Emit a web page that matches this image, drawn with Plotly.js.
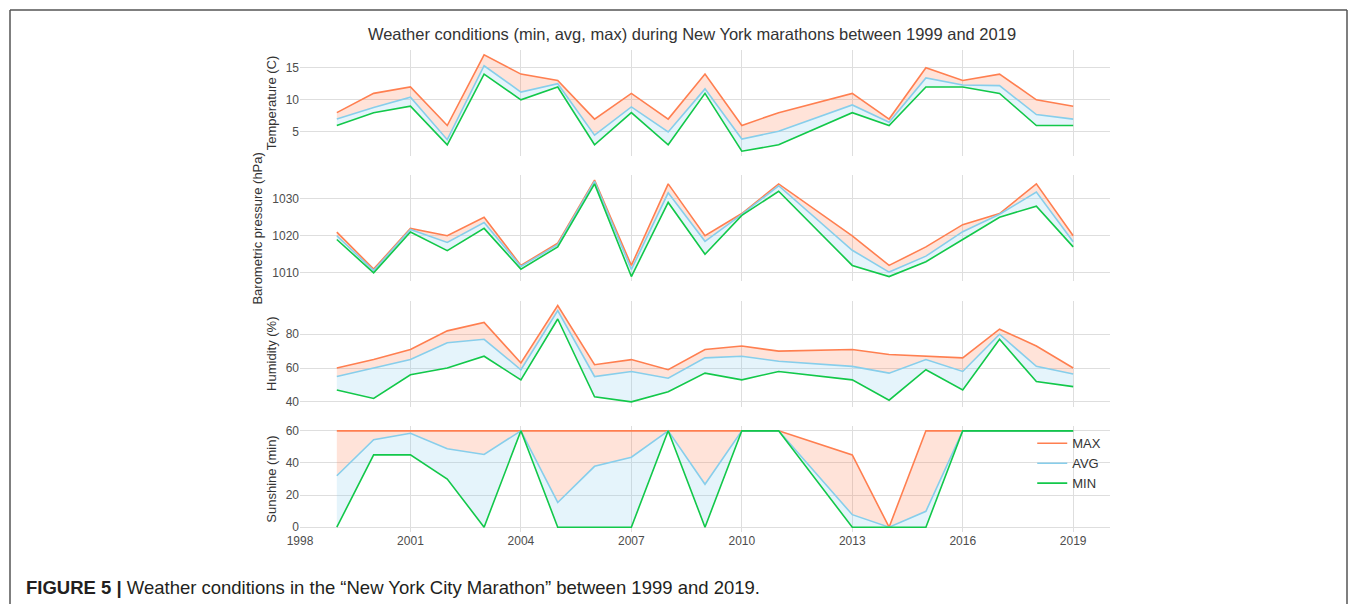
<!DOCTYPE html>
<html>
<head>
<meta charset="utf-8">
<script src="https://cdn.plot.ly/plotly-3.0.1.min.js"></script>
<style>
  html, body { margin: 0; padding: 0; background: #fff; }
  #chart { width: 1357px; height: 604px; }
</style>
</head>
<body>
<div id="chart"></div>
<script>
// Years (no race in 2012)
const years = [1999, 2000, 2001, 2002, 2003, 2004, 2005, 2006, 2007, 2008, 2009, 2010, 2011, 2013, 2014, 2015, 2016, 2017, 2018, 2019];

// Temperature (C)
const tempMax = [8, 11, 12, 6, 17, 14, 13, 7, 11, 7, 14, 6, 8, 11, 7, 15, 13, 14, 10, 9];
const tempAvg = [7, 8.8, 10.4, 3.8, 15.3, 11.2, 12.5, 4.5, 8.9, 5, 11.7, 3.9, 5.1, 9.2, 6.5, 13.4, 12.3, 12.2, 7.7, 7];
const tempMin = [6, 8, 9, 3, 14, 10, 12, 3, 8, 3, 11, 2, 3, 8, 6, 12, 12, 11, 6, 6];

// Barometric pressure (hPa)
const presMax = [1021, 1011, 1022, 1020, 1025, 1012, 1018, 1035, 1012, 1034, 1020, 1026, 1034, 1020, 1012, 1017, 1023, 1026, 1034, 1020];
const presAvg = [1020, 1010.6, 1021.7, 1018.2, 1023.6, 1011.7, 1017.6, 1034.7, 1010.9, 1031.6, 1018.5, 1025.8, 1033.5, 1016.1, 1010.2, 1014.5, 1021.1, 1025.8, 1031.8, 1018.4];
const presMin = [1019, 1010, 1021, 1016, 1022, 1011, 1017, 1034, 1009, 1029, 1015, 1025.5, 1032, 1012, 1009, 1013, 1019, 1025, 1028, 1017];

// Humidity (%)
const humMax = [60, 65, 71, 82, 87, 63, 97, 62, 65, 59, 71, 73, 70, 71, 68, 67, 66, 83, 73, 60];
const humAvg = [55, 60, 65, 75, 77, 59, 94, 55, 58, 54, 66, 67, 64, 61, 57, 65, 58, 80, 61, 56.5];
const humMin = [47, 42, 56, 60, 67, 53, 89, 43, 40, 46, 57, 53, 58, 53, 41, 59, 47, 77, 52, 49];

// Sunshine (min)
const sunMax = [60, 60, 60, 60, 60, 60, 60, 60, 60, 60, 60, 60, 60, 45, 0, 60, 60, 60, 60, 60];
const sunAvg = [32, 54.5, 58.5, 48.8, 45.3, 60, 15.4, 37.9, 43.6, 60, 26.7, 60, 60, 7.8, 0, 9.9, 60, 60, 60, 60];
const sunMin = [0, 45, 45, 30, 0, 60, 0, 0, 0, 60, 0, 60, 60, 0, 0, 0, 60, 60, 60, 60];

const xTicks = [1998, 2001, 2004, 2007, 2010, 2013, 2016, 2019];

const C_MAX = '#ff7f50', C_AVG = '#87ceeb', C_MIN = '#12c84a';
const F_MAX = 'rgba(255,127,80,0.22)', F_AVG = 'rgba(135,206,235,0.22)';
const FONT = 'Liberation Sans, Arial, sans-serif';

const panels = [
  {mx: tempMax, av: tempAvg, mn: tempMin, ax: ''},
  {mx: presMax, av: presAvg, mn: presMin, ax: '2'},
  {mx: humMax,  av: humAvg,  mn: humMin,  ax: '3'},
  {mx: sunMax,  av: sunAvg,  mn: sunMin,  ax: '4'}
];

const traces = [];
panels.forEach((p, i) => {
  const xa = 'x' + p.ax, ya = 'y' + p.ax;
  const leg = (i === 3);
  // fills
  traces.push({x: years, y: p.mn, xaxis: xa, yaxis: ya, mode: 'lines', line: {width: 0, color: 'rgba(0,0,0,0)'}, showlegend: false, hoverinfo: 'skip'});
  traces.push({x: years, y: p.av, xaxis: xa, yaxis: ya, mode: 'lines', line: {width: 0, color: 'rgba(0,0,0,0)'}, fill: 'tonexty', fillcolor: F_AVG, showlegend: false, hoverinfo: 'skip'});
  traces.push({x: years, y: p.mx, xaxis: xa, yaxis: ya, mode: 'lines', line: {width: 0, color: 'rgba(0,0,0,0)'}, fill: 'tonexty', fillcolor: F_MAX, showlegend: false, hoverinfo: 'skip'});
  // lines
  traces.push({x: years, y: p.mx, xaxis: xa, yaxis: ya, mode: 'lines', name: 'MAX', line: {color: C_MAX, width: 1.6}, showlegend: leg, legendrank: 1});
  traces.push({x: years, y: p.av, xaxis: xa, yaxis: ya, mode: 'lines', name: 'AVG', line: {color: C_AVG, width: 1.6}, showlegend: leg, legendrank: 2});
  traces.push({x: years, y: p.mn, xaxis: xa, yaxis: ya, mode: 'lines', name: 'MIN', line: {color: C_MIN, width: 1.6}, showlegend: leg, legendrank: 3});
});

const gridC = '#dedede';
function xax(showLabels, anchor) {
  return {
    range: [1998, 2020], tickmode: 'array', tickvals: xTicks, ticktext: xTicks.map(String),
    showticklabels: showLabels, showgrid: true, gridcolor: gridC, gridwidth: 1,
    zeroline: false, showline: false, ticks: '', anchor: anchor,
    tickfont: {family: FONT, size: 12, color: '#4d4d4d'}
  };
}
function yax(title, range, tickvals, domain, anchor) {
  return {
    title: {text: title, font: {family: FONT, size: 13, color: '#333'}, standoff: 6},
    range: range, tickmode: 'array', tickvals: tickvals, ticktext: tickvals.map(String),
    domain: domain, anchor: anchor, showgrid: true, gridcolor: gridC, gridwidth: 1,
    zeroline: false, showline: false, ticks: '',
    tickfont: {family: FONT, size: 12, color: '#4d4d4d'}
  };
}

const layout = {
  width: 1357, height: 604,
  margin: {l: 300, r: 247, t: 50, b: 72},
  paper_bgcolor: '#fff', plot_bgcolor: '#fff',
  font: {family: FONT},
  title: {text: 'Weather conditions (min, avg, max) during New York marathons between 1999 and 2019',
          font: {family: FONT, size: 16.5, color: '#333'}, xref: 'container', x: 692 / 1357, xanchor: 'center',
          yref: 'container', y: 1 - 34 / 604, yanchor: 'middle'},
  xaxis: xax(false, 'y'),
  xaxis2: xax(false, 'y2'),
  xaxis3: xax(false, 'y3'),
  xaxis4: xax(true, 'y4'),
  yaxis: yax('Temperature (C)', [1.25, 17.75], [5, 10, 15], [0.78, 1], 'x'),
  yaxis2: yax('Barometric pressure (hPa)', [1007.7, 1036.3], [1010, 1020, 1030], [0.52, 0.7399], 'x2'),
  yaxis3: yax('Humidity (%)', [37.15, 99.85], [40, 60, 80], [0.26, 0.4799], 'x3'),
  yaxis4: yax('Sunshine (min)', [-3, 63], [0, 20, 40, 60], [0, 0.2199], 'x4'),
  showlegend: true,
  legend: {x: 0.904, y: 0.215, xanchor: 'left', yanchor: 'top', bgcolor: 'rgba(0,0,0,0)', traceorder: 'normal',
           font: {family: FONT, size: 13, color: '#333'}, tracegroupgap: 0},
  shapes: [
    {type: 'line', xref: 'paper', yref: 'paper', x0: (10 - 300) / 810, x1: (1347 - 300) / 810,
     y0: (532 - 10) / 482, y1: (532 - 10) / 482, line: {color: '#555', width: 1.5}},
    {type: 'line', xref: 'paper', yref: 'paper', x0: (10 - 300) / 810, x1: (10 - 300) / 810,
     y0: (532 - 10) / 482, y1: (532 - 604) / 482, line: {color: '#555', width: 1.5}},
    {type: 'line', xref: 'paper', yref: 'paper', x0: (1347 - 300) / 810, x1: (1347 - 300) / 810,
     y0: (532 - 10) / 482, y1: (532 - 604) / 482, line: {color: '#555', width: 1.5}}
  ],
  annotations: [
    {xref: 'paper', yref: 'paper', x: (24 - 300) / 810, y: (532 - 587) / 482, xanchor: 'left', yanchor: 'middle',
     showarrow: false, align: 'left',
     text: '<b>FIGURE 5 |</b> Weather conditions in the \u201cNew York City Marathon\u201d between 1999 and 2019.',
     font: {family: FONT, size: 18.5, color: '#231f20'}}
  ]
};

Plotly.newPlot('chart', traces, layout, {displayModeBar: false, staticPlot: true});
</script>
</body>
</html>
